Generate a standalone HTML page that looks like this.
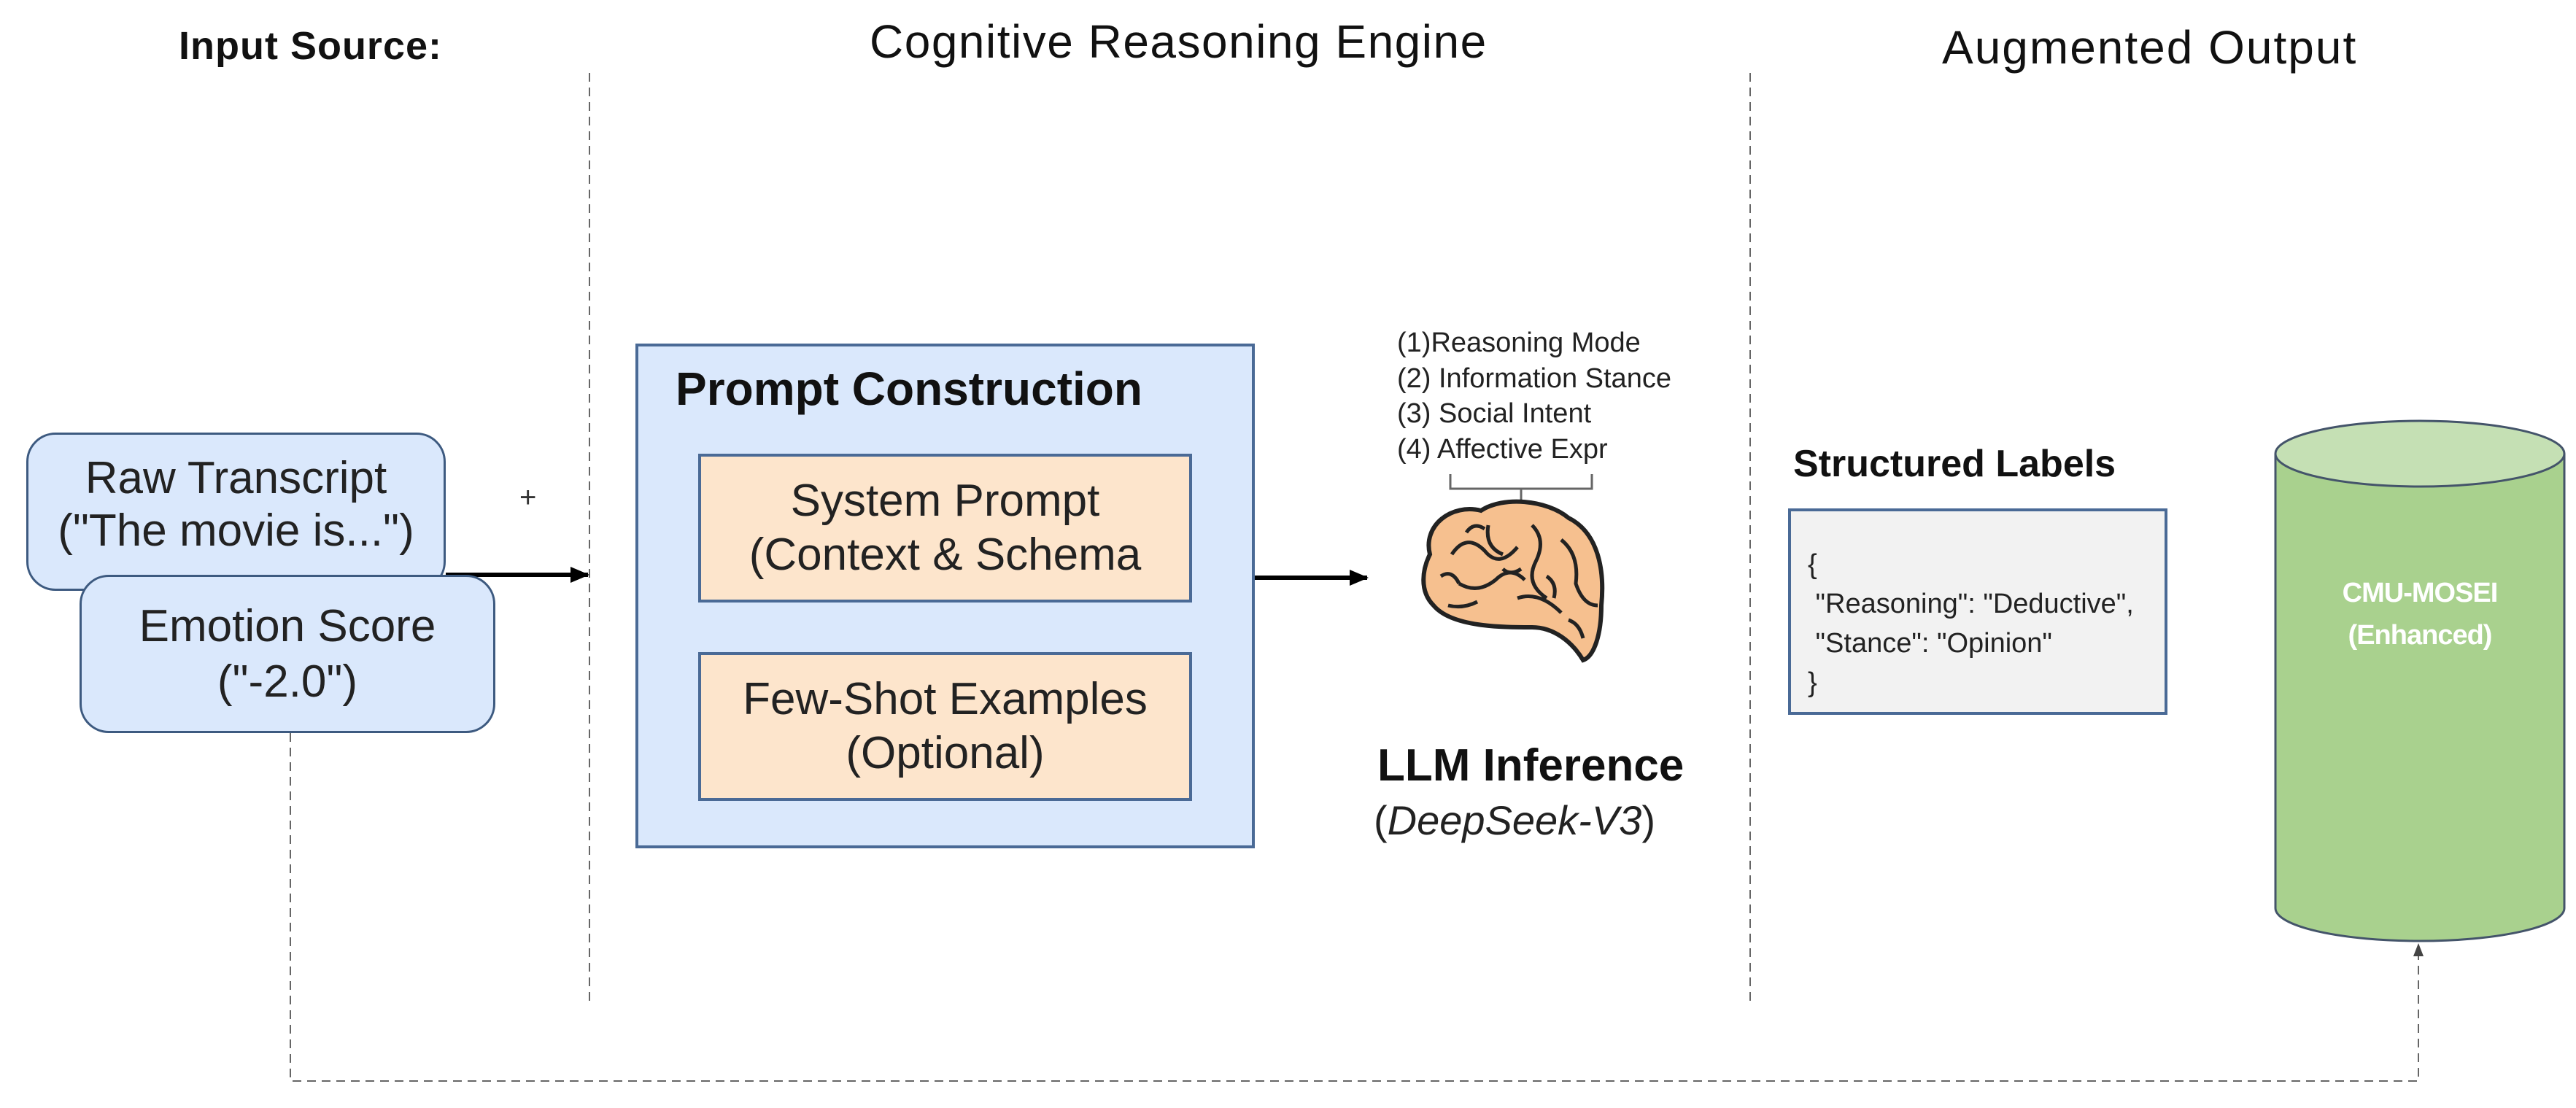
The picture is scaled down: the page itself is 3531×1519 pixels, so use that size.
<!DOCTYPE html>
<html><head><meta charset="utf-8"><style>
html,body{margin:0;padding:0;background:#fff;}
body{width:3531px;height:1519px;position:relative;overflow:hidden;font-family:"Liberation Sans",sans-serif;}
.t{position:absolute;white-space:nowrap;color:#111;}
.box{position:absolute;box-sizing:border-box;display:flex;flex-direction:column;align-items:center;justify-content:center;text-align:center;color:#222;}
</style></head><body>
<svg width="3531" height="1519" style="position:absolute;left:0;top:0">
<defs>
<marker id="b" markerWidth="18" markerHeight="18" refX="16" refY="9" orient="auto" markerUnits="userSpaceOnUse"><path d="M0,2 L18,9 L0,16z" fill="#444"/></marker>
<marker id="c" markerWidth="26" markerHeight="26" refX="24" refY="13" orient="auto" markerUnits="userSpaceOnUse"><path d="M0,2 L26,13 L0,24z" fill="#000"/></marker></defs>
<line x1="808" y1="100" x2="808" y2="1380" stroke="#666" stroke-width="2" stroke-dasharray="12,8"/>
<line x1="2399" y1="100" x2="2399" y2="1380" stroke="#666" stroke-width="2" stroke-dasharray="12,8"/>
<polyline points="398,1005 398,1482 3315,1482 3315,1295" fill="none" stroke="#666" stroke-width="2" stroke-dasharray="12,8" marker-end="url(#b)"/>
<line x1="611" y1="788" x2="806" y2="788" stroke="#000" stroke-width="6" marker-end="url(#c)"/>
<line x1="1720" y1="792" x2="1874" y2="792" stroke="#000" stroke-width="6" marker-end="url(#c)"/>
<path d="M1988,650 L1988,670 L2182,670 L2182,650 M2085,670 L2085,685" fill="none" stroke="#666" stroke-width="3"/>
<g>
<path d="M1960,760 C1950,720 1990,690 2030,700 C2060,680 2120,685 2150,710 C2190,730 2200,780 2195,830 C2195,870 2185,900 2170,905 C2155,880 2130,860 2100,860 C2060,860 1990,860 1965,830 C1945,810 1950,780 1960,760Z" fill="#f6c08f" stroke="#222" stroke-width="6"/>
<path d="M1990,760 q20,-30 45,-5 q20,25 45,-5 M2000,800 q25,15 50,-5 q20,-20 40,0 M2100,720 q20,20 5,50 q-15,30 15,50 M2140,740 q25,20 20,60 q10,30 30,30 M2040,720 q-5,30 20,40 M2080,820 q30,-10 60,20 M1975,790 q15,-10 25,10 M2010,730 q10,-15 25,-5 M2120,790 q15,10 10,30 M2150,850 q15,5 20,25 M2060,780 q10,10 25,0 M1985,830 q20,5 40,-5" fill="none" stroke="#222" stroke-width="5"/>
</g>
<path d="M3119,622 L3119,1245 A198,45 0 0 0 3515,1245 L3515,622" fill="#a9d18e" stroke="#44546a" stroke-width="3"/>
<ellipse cx="3317" cy="622" rx="198" ry="45" fill="#c5e0b4" stroke="#44546a" stroke-width="3"/>
</svg>
<div class="t" style="left:245px;top:32px;font-size:54px;font-weight:bold;letter-spacing:1px">Input Source:</div>
<div class="t" style="left:1192px;top:20px;font-size:64px;letter-spacing:1.5px">Cognitive Reasoning Engine</div>
<div class="t" style="left:2662px;top:28px;font-size:64px;letter-spacing:2px">Augmented Output</div>
<div class="box" style="left:36px;top:593px;width:575px;height:217px;background:#dae8fc;border:3px solid #3d5a80;border-radius:40px;font-size:62px;line-height:72px;justify-content:flex-start;padding-top:24px">Raw Transcript<br>("The movie is...")</div>
<div class="box" style="left:109px;top:788px;width:570px;height:217px;background:#dae8fc;border:3px solid #3d5a80;border-radius:40px;font-size:62px;line-height:76px">Emotion Score<br>("-2.0")</div>
<div class="t" style="left:712px;top:660px;font-size:40px;color:#333">+</div>
<div class="box" style="left:871px;top:471px;width:849px;height:692px;background:#dae8fc;border:4px solid #4a6a96;"></div>
<div class="t" style="left:926px;top:496px;font-size:64px;font-weight:bold">Prompt Construction</div>
<div class="box" style="left:957px;top:622px;width:677px;height:204px;background:#fde5cc;border:4px solid #4a6a96;font-size:62px;line-height:74px">System Prompt<br>(Context &amp; Schema</div>
<div class="box" style="left:957px;top:894px;width:677px;height:204px;background:#fde5cc;border:4px solid #4a6a96;font-size:62px;line-height:74px">Few-Shot Examples<br>(Optional)</div>
<div class="t" style="left:1915px;top:446px;font-size:38px;line-height:48.5px;color:#222">(1)Reasoning Mode<br>(2) Information Stance<br>(3) Social Intent<br>(4) Affective Expr</div>
<div class="t" style="left:1888px;top:1014px;font-size:62px;font-weight:bold">LLM Inference</div>
<div class="t" style="left:1883px;top:1092px;font-size:56px;color:#222">(<i>DeepSeek-V3</i>)</div>
<div class="t" style="left:2458px;top:606px;font-size:52px;font-weight:bold">Structured Labels</div>
<div class="box" style="left:2451px;top:697px;width:520px;height:283px;background:#f2f2f2;border:4px solid #4a6a96;"></div>
<div class="t" style="left:2478px;top:747px;font-size:38px;line-height:54px;color:#222">{<br>&nbsp;"Reasoning": "Deductive",<br>&nbsp;"Stance": "Opinion"<br>}</div>
<div class="t" style="left:3119px;width:396px;top:784px;text-align:center;font-size:38px;line-height:58px;font-weight:bold;color:#fff;letter-spacing:-1px">CMU-MOSEI<br>(Enhanced)</div>
</body></html>
